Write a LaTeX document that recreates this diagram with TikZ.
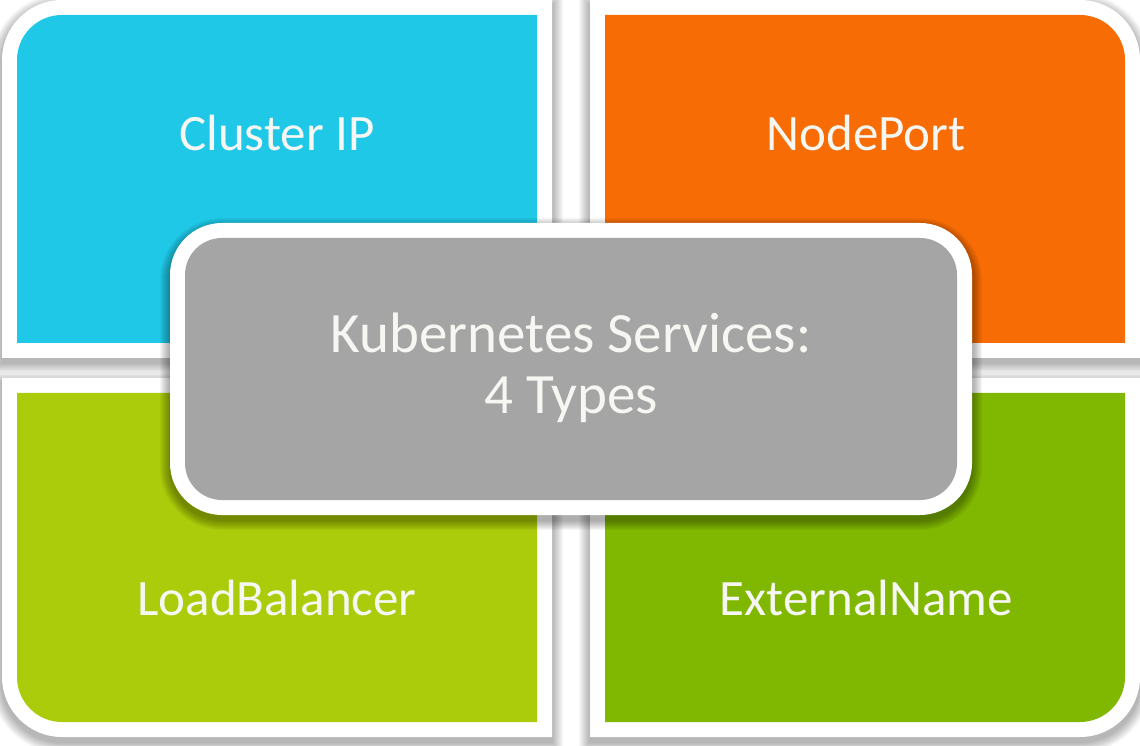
\documentclass[tikz,border=0pt]{standalone}
\usepackage{fontspec}
\setmainfont{Carlito}
\definecolor{qblue}{HTML}{20C8E8}
\definecolor{qorange}{HTML}{F76C05}
\definecolor{qlime}{HTML}{ABCC0A}
\definecolor{qgreen}{HTML}{80B700}
\definecolor{qgray}{HTML}{A5A5A5}
\definecolor{qtext}{HTML}{F6F6F2}
% quadrant outlines, #1 = outward expansion
\newcommand\shpA[1]{({17-(#1)},{402-(#1)}) -- ({17-(#1)},685) arc[start angle=180,end angle=90,radius={45+(#1)}] -- ({537+(#1)},{730+(#1)}) -- ({537+(#1)},{402-(#1)}) -- cycle}
\newcommand\shpB[1]{({605-(#1)},{402-(#1)}) -- ({605-(#1)},{730+(#1)}) -- (1080,{730+(#1)}) arc[start angle=90,end angle=0,radius={45+(#1)}] -- ({1125+(#1)},{402-(#1)}) -- cycle}
\newcommand\shpC[1]{({17-(#1)},{352+(#1)}) -- ({537+(#1)},{352+(#1)}) -- ({537+(#1)},{23-(#1)}) -- (62,{23-(#1)}) arc[start angle=270,end angle=180,radius={45+(#1)}] -- cycle}
\newcommand\shpD[1]{({605-(#1)},{352+(#1)}) -- ({1125+(#1)},{352+(#1)}) -- ({1125+(#1)},68) arc[start angle=0,end angle=-90,radius={45+(#1)}] -- ({605-(#1)},{23-(#1)}) -- cycle}
\tikzset{
  lbl/.style={text=qtext, font=\fontsize{51}{61}\selectfont, inner sep=0pt},
  biglbl/.style={text=qtext, font=\fontsize{57}{61}\selectfont, inner sep=0pt, align=center},
  shadowlayer/.style={black, opacity=0.028},
}
\begin{document}
\begin{tikzpicture}[x=1pt,y=1pt]
\useasboundingbox (0,0) rectangle (1140,745);
\fill[white] (0,0) rectangle (1140,745);
% quadrant shadows
\foreach \k in {1,...,11}{
  \fill[shadowlayer, yshift=-5pt] \shpA{15+\k};
  \fill[shadowlayer, yshift=-5pt] \shpB{15+\k};
  \fill[shadowlayer, yshift=-5pt] \shpC{15+\k};
  \fill[shadowlayer, yshift=-5pt] \shpD{15+\k};
}
% white frames
\fill[white] \shpA{15};
\fill[white] \shpB{15};
\fill[white] \shpC{15};
\fill[white] \shpD{15};
% coloured quadrants
\fill[qblue] \shpA{0};
\fill[qorange] \shpB{0};
\fill[qlime] \shpC{0};
\fill[qgreen] \shpD{0};
% centre box shadow
\foreach \k in {1,...,10}{
  \fill[shadowlayer, opacity=0.035, rounded corners={52+\k}] ({170-\k},{230-\k-5}) rectangle ({972+\k},{522+\k-5});
}
\fill[white, rounded corners=52] (170,230) rectangle (972,522);
\fill[qgray, rounded corners=37] (185,245) rectangle (957,507);
% labels
\node[lbl, anchor=base] (cip) at (277,594) {Cluster IP};
\node[lbl, anchor=base] (np) at (866,594) {NodePort};
\node[lbl, anchor=base] (lb) at (277,130) {LoadBalancer};
\node[lbl, anchor=base] (en) at (866,130) {ExternalName};
\node[biglbl] (ks) at (571,377) {Kubernetes Services:\\4 Types};
\end{tikzpicture}
\end{document}
